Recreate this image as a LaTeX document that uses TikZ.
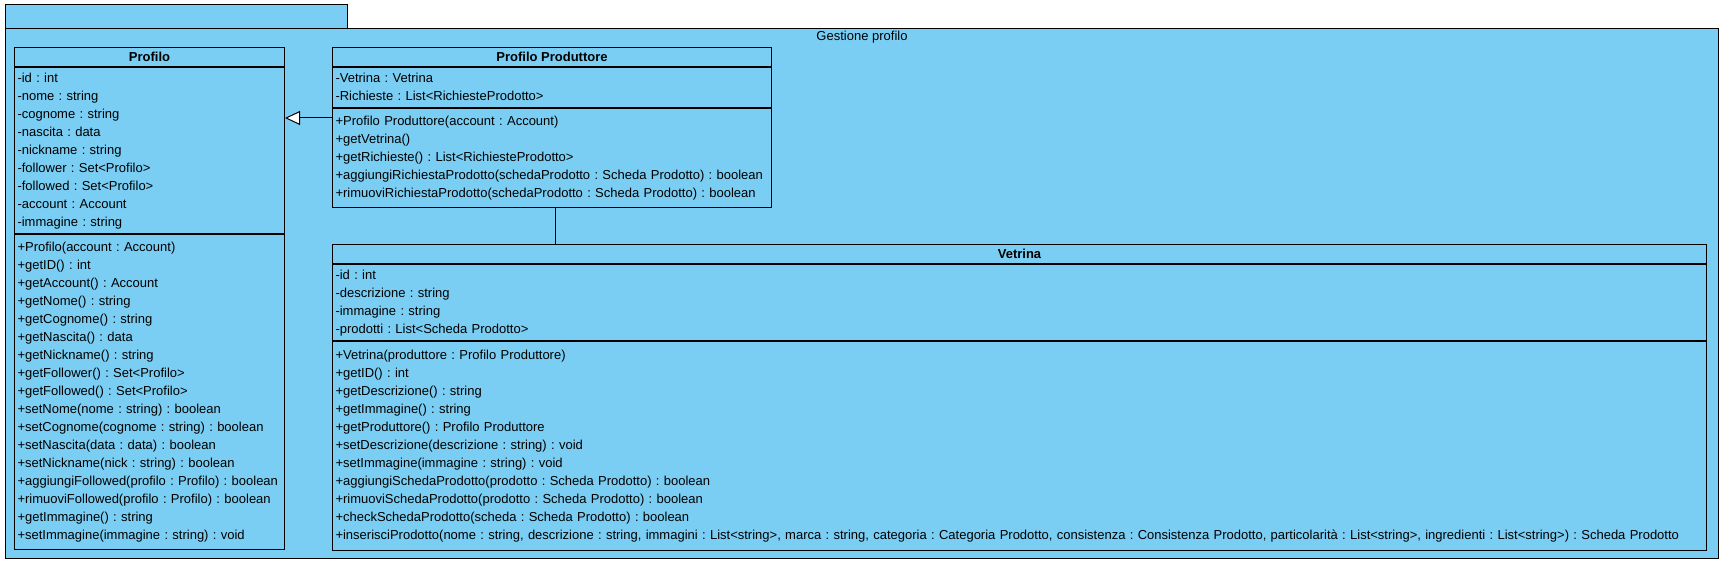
\documentclass[tikz,border=0pt]{standalone}
\usepackage{fontspec}
\setmainfont{Liberation Sans}
\frenchspacing
\usetikzlibrary{positioning,arrows.meta}

\definecolor{azzurroVP}{RGB}{122,206,244}

\tikzset{
  pacchetto/.style={draw, line width=1pt, fill=azzurroVP, inner sep=0pt, anchor=north west},
  intestazione/.style={draw, line width=1pt, fill=azzurroVP, inner sep=0pt, anchor=north west,
    minimum height=19pt, font=\bfseries\fontsize{13}{18}\selectfont},
  sezione/.style={draw, line width=1pt, fill=azzurroVP, inner xsep=3pt, align=left,
    font=\frenchspacing\fontsize{13}{18}\selectfont, execute at begin node=\strut, execute at end node=\strut},
}

\begin{document}
\begin{tikzpicture}[x=1pt, y=-1pt]
    \useasboundingbox (0,0) rectangle (1725,564);

    % Pacchetto Gestione profilo
    \node[pacchetto, minimum width=342pt, minimum height=24pt] (linguetta) at (5,4) {};
    \node[pacchetto, minimum width=1713pt, minimum height=530pt] (pacchetto) at (5,28) {};
    \node[below=3pt of pacchetto.north, inner sep=0pt, font=\fontsize{13}{18}\selectfont] (nomePacchetto) {Gestione profilo};

    % Classe Profilo
    \node[intestazione, minimum width=270pt] (profilo) at (14,47) {Profilo};
    \node[sezione, text width=264pt, inner ysep=2pt, below=0pt of profilo] (profiloAttr) {-id : int\\-nome : string\\-cognome : string\\-nascita : data\\-nickname : string\\-follower : Set<Profilo>\\-followed : Set<Profilo>\\-account : Account\\-immagine : string};
    \node[sezione, text width=264pt, inner ysep=4.5pt, below=0pt of profiloAttr] (profiloMet) {+Profilo(account : Account)\\+getID() : int\\+getAccount() : Account\\+getNome() : string\\+getCognome() : string\\+getNascita() : data\\+getNickname() : string\\+getFollower() : Set<Profilo>\\+getFollowed() : Set<Profilo>\\+setNome(nome : string) : boolean\\+setCognome(cognome : string) : boolean\\+setNascita(data : data) : boolean\\+setNickname(nick : string) : boolean\\+aggiungiFollowed(profilo : Profilo) : boolean\\+rimuoviFollowed(profilo : Profilo) : boolean\\+getImmagine() : string\\+setImmagine(immagine : string) : void};

    % Classe Profilo Produttore
    \node[intestazione, minimum width=439pt] (produttore) at (332,47) {Profilo Produttore};
    \node[sezione, text width=433pt, inner ysep=2pt, below=0pt of produttore] (produttoreAttr) {-Vetrina : Vetrina\\-Richieste : List<RichiesteProdotto>};
    \node[sezione, text width=433pt, inner ysep=4.5pt, below=0pt of produttoreAttr] (produttoreMet) {+Profilo Produttore(account : Account)\\+getVetrina()\\+getRichieste() : List<RichiesteProdotto>\\+aggiungiRichiestaProdotto(schedaProdotto : Scheda Prodotto) : boolean\\+rimuoviRichiestaProdotto(schedaProdotto : Scheda Prodotto) : boolean};

    % Classe Vetrina
    \node[intestazione, minimum width=1374pt] (vetrina) at (332,244) {Vetrina};
    \node[sezione, text width=1368pt, inner ysep=2pt, below=0pt of vetrina] (vetrinaAttr) {-id : int\\-descrizione : string\\-immagine : string\\-prodotti : List<Scheda Prodotto>};
    \node[sezione, text width=1368pt, inner ysep=5.5pt, below=0pt of vetrinaAttr] (vetrinaMet) {+Vetrina(produttore : Profilo Produttore)\\+getID() : int\\+getDescrizione() : string\\+getImmagine() : string\\+getProduttore() : Profilo Produttore\\+setDescrizione(descrizione : string) : void\\+setImmagine(immagine : string) : void\\+aggiungiSchedaProdotto(prodotto : Scheda Prodotto) : boolean\\+rimuoviSchedaProdotto(prodotto : Scheda Prodotto) : boolean\\+checkSchedaProdotto(scheda : Scheda Prodotto) : boolean\\+inserisciProdotto(nome : string, descrizione : string, immagini : List<string>, marca : string, categoria : Categoria Prodotto, consistenza : Consistenza Prodotto, particolarità : List<string>, ingredienti : List<string>) : Scheda Prodotto};

    % Generalizzazione Profilo Produttore -> Profilo
    \draw[line width=1pt, -{Triangle[length=15pt, width=14pt, fill=white]}] (produttoreMet.west |- 0,118) -- (profiloAttr.east |- 0,118);

    % Associazione Profilo Produttore - Vetrina
    \coordinate (attacco) at (555,208);
    \draw[line width=1pt] (attacco) -- (attacco |- vetrina.north);
\end{tikzpicture}
\end{document}
